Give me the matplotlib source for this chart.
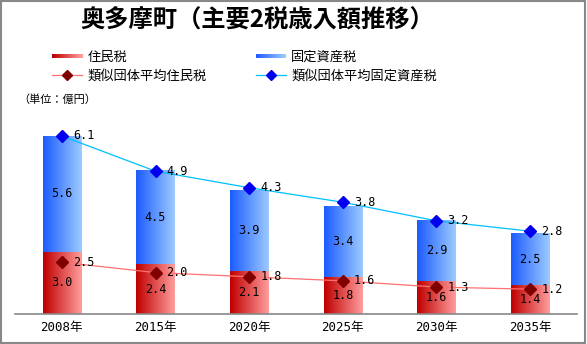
import matplotlib; matplotlib.use("Agg")
import matplotlib.pyplot as plt
import numpy as np
from matplotlib.colors import LinearSegmentedColormap
from matplotlib.patches import Rectangle
from matplotlib.lines import Line2D
from matplotlib.legend_handler import HandlerBase

plt.rcParams['font.family'] = ['Noto Sans CJK JP', 'DejaVu Sans']
NUM = ['DejaVu Sans Mono', 'Noto Sans CJK JP']

years = ["2008年", "2015年", "2020年", "2025年", "2030年", "2035年"]
jumin = [3.0, 2.4, 2.1, 1.8, 1.6, 1.4]          # 住民税
kotei = [5.6, 4.5, 3.9, 3.4, 2.9, 2.5]          # 固定資産税
avg_jumin = [2.5, 2.0, 1.8, 1.6, 1.3, 1.2]      # 類似団体平均住民税
avg_kotei = [6.1, 4.9, 4.3, 3.8, 3.2, 2.8]      # 類似団体平均固定資産税 (stacked on 住民税 avg)

RED = LinearSegmentedColormap.from_list("r", ["#c00000", "#ff9c9c"])
BLUE = LinearSegmentedColormap.from_list("b", ["#1d5cff", "#9ccaff"])
grad = np.linspace(0, 1, 64).reshape(1, -1)

W, H = 587, 344
fig = plt.figure(figsize=(W/100, H/100), dpi=100)
ax = fig.add_axes([15/W, 30/H, 562/W, 207/H])

x = np.arange(len(years)); bw = 0.41
for i in x:
    b0, b1 = jumin[i], jumin[i] + kotei[i]
    ax.imshow(grad, cmap=RED, extent=[i-bw/2, i+bw/2, 0, b0], aspect="auto", zorder=2)
    ax.imshow(grad, cmap=BLUE, extent=[i-bw/2, i+bw/2, b0, b1], aspect="auto", zorder=2)
    ax.text(i, b0/2, f"{jumin[i]:.1f}", ha="center", va="center", fontsize=8.5, family=NUM, zorder=5)
    ax.text(i, b0 + kotei[i]/2, f"{kotei[i]:.1f}", ha="center", va="center", fontsize=8.5, family=NUM, zorder=5)

cum = np.array(avg_jumin) + np.array(avg_kotei)
ax.plot(x, avg_jumin, color="#ff7070", lw=0.9, marker="D", ms=6.5, mfc="#800000", mec="#800000", zorder=4)
ax.plot(x, cum, color="#00bfff", lw=0.9, marker="D", ms=6.5, mfc="#0000ee", mec="#0000ee", zorder=4)
for i in x:
    ax.annotate(f"{avg_jumin[i]:.1f}", (i, avg_jumin[i]), xytext=(8, 0), textcoords="offset points",
                va="center", fontsize=8.5, family=NUM, zorder=6)
    ax.annotate(f"{avg_kotei[i]:.1f}", (i, cum[i]), xytext=(8, 0), textcoords="offset points",
                va="center", fontsize=8.5, family=NUM, zorder=6)

ax.set_xlim(-0.5, len(years)-0.5); ax.set_ylim(0, 10)
ax.set_xticks(x); ax.set_xticklabels(years, fontsize=9, family=NUM)
ax.set_yticks([])
ax.tick_params(axis="x", length=0, pad=5)
for s in ["top", "right", "left"]: ax.spines[s].set_visible(False)
ax.spines["bottom"].set_color("#888888"); ax.spines["bottom"].set_linewidth(1.2)
ax.patch.set_alpha(0)

class GradHandler(HandlerBase):
    def __init__(self, cmap): super().__init__(); self.cmap = cmap
    def create_artists(self, legend, orig, xd, yd, width, height, fontsize, trans):
        n = 20; arts = []
        for k in range(n):
            arts.append(Rectangle((xd + width*k/n, yd + height*0.3), width/n + 0.2, height*0.45,
                                  color=self.cmap(k/(n-1)), transform=trans, lw=0))
        return arts

hr = Rectangle((0, 0), 1, 1); hb = Rectangle((0, 0), 1, 1)
l1 = Line2D([], [], color="#ff7070", lw=0.9, marker="D", ms=5.5, mfc="#800000", mec="#800000")
l2 = Line2D([], [], color="#00bfff", lw=0.9, marker="D", ms=5.5, mfc="#0000ee", mec="#0000ee")
fig.legend([hr, l1, hb, l2], ["住民税", "類似団体平均住民税", "固定資産税", "類似団体平均固定資産税"],
           handler_map={hr: GradHandler(RED), hb: GradHandler(BLUE)}, ncol=2, frameon=False,
           loc="upper left", bbox_to_anchor=(52/W, 1-51/H), borderpad=0, borderaxespad=0,
           fontsize=9.5, handlelength=2.3, columnspacing=3.7, labelspacing=0.4, handletextpad=0.4)

fig.text(257/W, 1-21/H, "奥多摩町（主要2税歳入額推移）", ha="center", va="center", fontsize=17.5, fontweight="bold")
fig.text(18/W, 1-100/H, "（単位：億円）", ha="left", va="center", fontsize=8)
fig.patches.append(Rectangle((0.002, 0.003), 0.994, 0.994, transform=fig.transFigure,
                             fill=False, ec="#888888", lw=1.5))
fig.savefig("out.png", dpi=100)
